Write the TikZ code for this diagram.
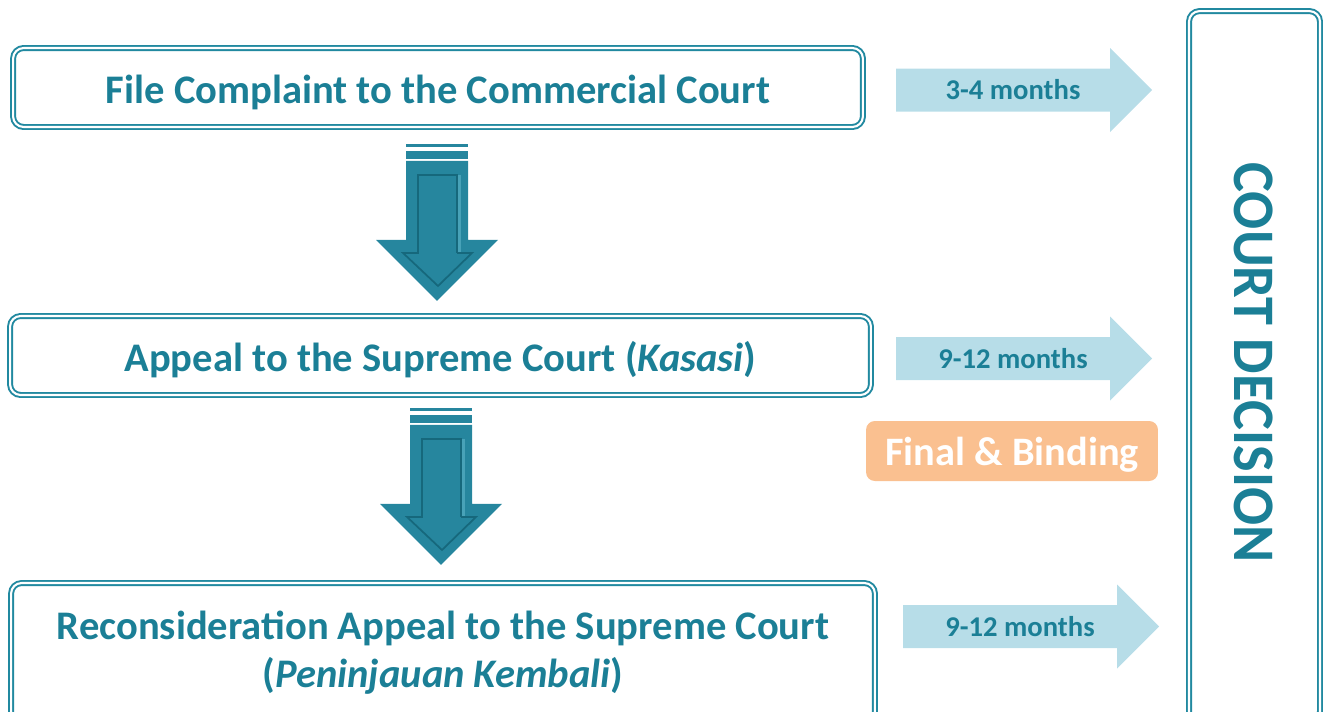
\documentclass[tikz,border=0pt]{standalone}
\usepackage{fontspec}
\setmainfont{Carlito}
\usetikzlibrary{calc,positioning}

\definecolor{tealtext}{RGB}{27,127,150}
\definecolor{tealline}{RGB}{33,137,160}
\definecolor{tealarrow}{RGB}{38,134,158}
\definecolor{tealdark}{RGB}{22,104,124}
\definecolor{teallight}{RGB}{72,162,184}
\definecolor{skyarrow}{RGB}{183,221,232}
\definecolor{peach}{RGB}{250,192,144}

\tikzset{
  stepbox/.style={draw=tealline, line width=1.1pt, double=white, double distance=1.2pt,
    rounded corners=6pt, text=tealtext, align=center, inner sep=0pt,
    font=\bfseries\fontsize{23.1}{27}\selectfont},
  oneline/.style={text height=20.5pt, text depth=2pt},
  monthtext/.style={text=tealtext, font=\bfseries\fontsize{16.3}{19}\selectfont},
  finalbox/.style={fill=peach, rounded corners=5pt, text=white,
    minimum width=5.84cm, minimum height=1.2cm, text height=19pt, text depth=2pt,
    font=\bfseries\fontsize{23}{27}\selectfont},
  decisiontext/.style={text=tealtext, rotate=-90,
    font=\bfseries\fontsize{33.5}{40}\selectfont},
  downarrow/.pic={
    \fill[tealarrow] (-31,0) rectangle (31,3);
    \fill[tealarrow] (-31,7) rectangle (31,15);
    \fill[tealarrow] (-31,17) -- (31,17) -- (31,96) -- (61,96) -- (0,157)
      -- (-61,96) -- (-31,96) -- cycle;
    \fill[teallight] (19,31) rectangle (24,109);
    \draw[tealdark, line width=1pt] (20,109) -- (20,31) -- (-19,31) -- (-19,109)
      -- (-34,109) -- (1,142) -- (35,109) -- (20,109);
  }
}

% shaft left, centre y, label, name
\newcommand{\monthsarrow}[4]{%
  \fill[skyarrow] (#1,#2-21.5) -- ++(214,0) -- ++(0,-20.5) -- ++(42,42)
    -- ++(-42,42) -- ++(0,-20.5) -- ++(-214,0) -- cycle;
  \node[monthtext] (#4) at (#1+117,#2) {#3};
}

\begin{document}
\begin{tikzpicture}[x=0.02cm, y=-0.02cm]
  \useasboundingbox (0,0) rectangle (1324,711);

  % Etapas
  \node[stepbox, oneline, minimum width=17.0cm, minimum height=1.58cm] (file) at (438,87.5)
    {File Complaint to the Commercial Court};
  \node[stepbox, oneline, minimum width=17.22cm, minimum height=1.58cm] (kasasi) at (440.5,355.5)
    {Appeal to the Supreme Court (\textit{Kasasi})};
  \node[stepbox, minimum width=17.28cm, minimum height=2.78cm] (review) at (443,652.5)
    {Reconsideration Appeal to the Supreme Court\\[0.3pt](\textit{Peninjauan Kembali})};

  % Flechas hacia abajo
  \pic at ($(file.south)+(-1,16)$) {downarrow};
  \pic at ($(kasasi.south)+(0.5,12)$) {downarrow};

  % Plazos
  \monthsarrow{896}{90}{3-4 months}{months1}
  \monthsarrow{896}{358.5}{9-12 months}{months2}
  \monthsarrow{903}{626.5}{9-12 months}{months3}

  \node[finalbox] (final) at (1012,451) {Final \& Binding};

  % Decision
  \node[stepbox, minimum width=2.62cm, minimum height=14.22cm] (decision) at (1254.5,366.5) {};
  \node[decisiontext] (decisionlabel) at (1254,362.5) {\scalebox{0.957}[1]{COURT DECISION}};
\end{tikzpicture}
\end{document}
